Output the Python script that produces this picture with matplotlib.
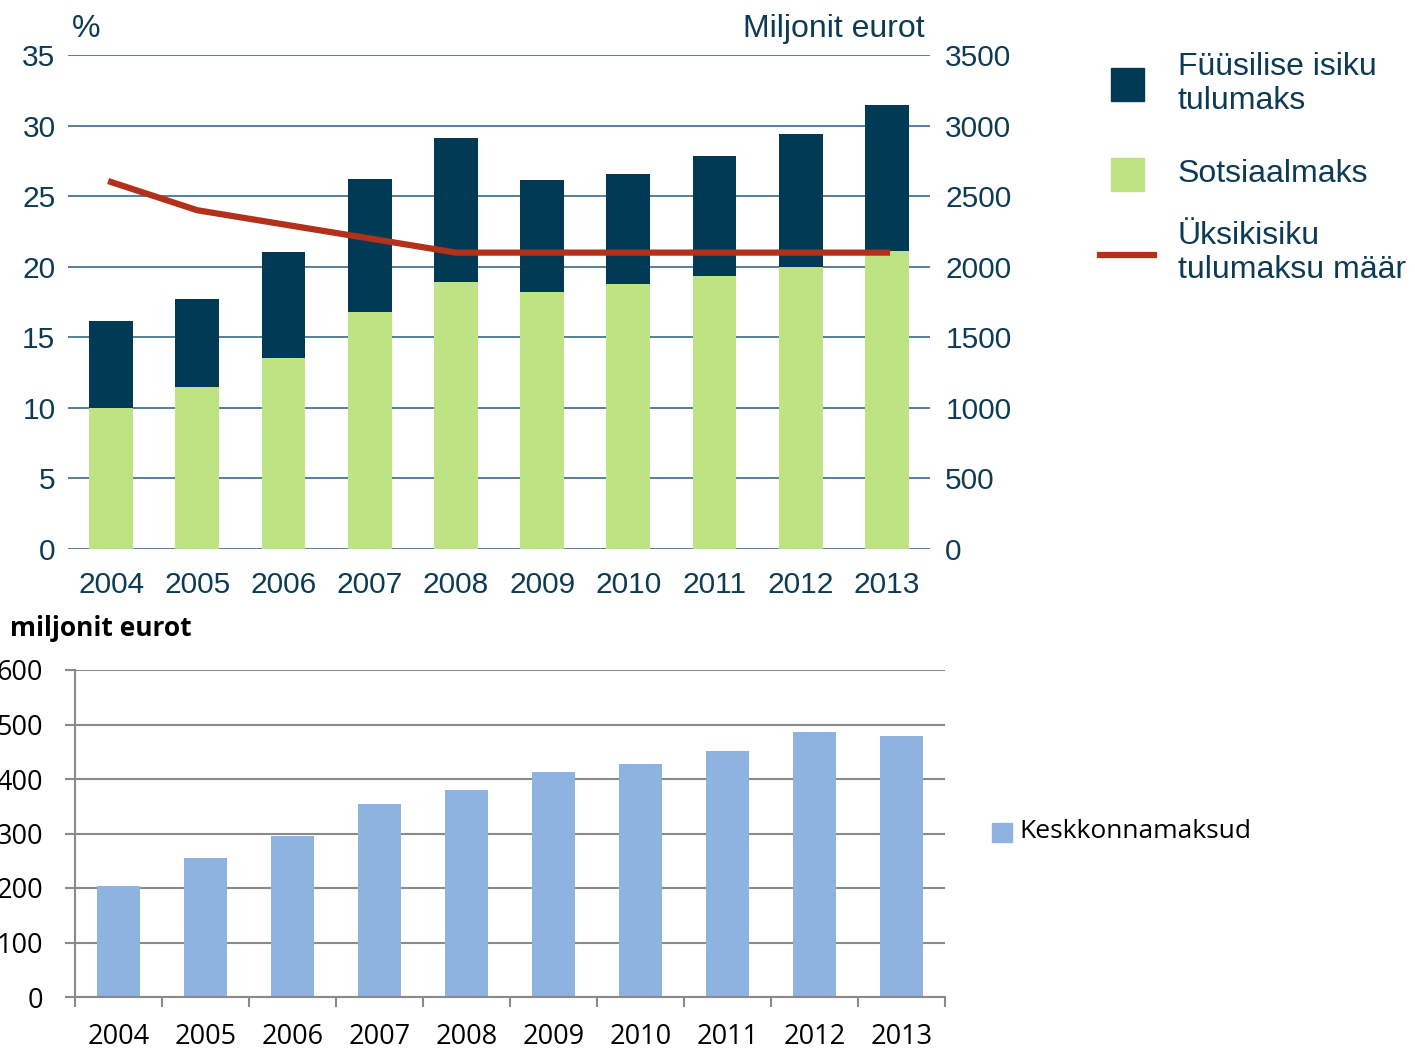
import numpy as np
import matplotlib
matplotlib.use("Agg")
import matplotlib.pyplot as plt

years = ["2004", "2005", "2006", "2007", "2008", "2009", "2010", "2011", "2012", "2013"]
sotsiaalmaks = [1000, 1148, 1353, 1679, 1892, 1821, 1878, 1934, 1998, 2111]
tulumaks = [615, 623, 751, 942, 1020, 793, 779, 850, 942, 1035]
maar = [26, 24, 23, 22, 21, 21, 21, 21, 21, 21]
keskkond = [203, 255, 295, 354, 380, 413, 428, 451, 486, 479]

navy = "#003a55"
green = "#bee383"
red = "#b3301a"
txt = "#0d3b55"
grid_top = "#3a6a86"
blue = "#8eb3e1"
grey = "#8a8a8a"

W, H = 1415, 1050
fig = plt.figure(figsize=(W / 100, H / 100), dpi=100)
x = np.arange(len(years))

# --- top chart: bars on right axis (mln eur), rate line on left axis (%)
ax = fig.add_axes([68 / W, 1 - 549 / H, (930 - 68) / W, (549 - 55) / H])
ax.bar(x, sotsiaalmaks, 0.51, color=green, zorder=2)
ax.bar(x, tulumaks, 0.51, bottom=sotsiaalmaks, color=navy, zorder=2)
ax.set_ylim(0, 3500)
ax.set_xlim(-0.5, len(years) - 0.5)
ax.set_yticks(np.arange(0, 3501, 500))
ax.grid(axis="y", color=grid_top, lw=1.2, zorder=0)
for s in ax.spines.values():
    s.set_visible(False)
ax.set_xticks(x)
ax.set_xticklabels(years)

ax2 = ax.twinx()
ax2.plot(x, maar, color=red, lw=4.5, zorder=3)
ax2.set_ylim(0, 35)
ax2.set_yticks(np.arange(0, 36, 5))
for s in ax2.spines.values():
    s.set_visible(False)
# swap sides after twinx
ax.yaxis.tick_right()
ax2.yaxis.tick_left()
ax.tick_params(axis="y", length=0, pad=11, labelsize=21.5, labelcolor=txt)
ax.tick_params(axis="x", length=0, pad=16, labelsize=21.5, labelcolor=txt)
ax2.tick_params(axis="y", length=0, pad=9, labelsize=21.5, labelcolor=txt)
for lab in ax.get_xticklabels() + ax.get_yticklabels() + ax2.get_yticklabels():
    lab.set_family("Liberation Sans")

fig.text(72 / W, 1 - 29 / H, "%", ha="left", va="center", fontsize=23, color=txt, family="Liberation Sans")
fig.text(925 / W, 1 - 29 / H, "Miljonit eurot", ha="right", va="center", fontsize=23, color=txt, family="Liberation Sans")

# legend top (drawn by hand in figure coordinates)
lk = dict(fontsize=23, color=txt, family="Liberation Sans", va="center", ha="left")
fig.patches.append(plt.Rectangle((1111 / W, 1 - 101 / H), 33 / W, 33 / H, color=navy, transform=fig.transFigure))
fig.patches.append(plt.Rectangle((1111 / W, 1 - 191 / H), 33 / W, 33 / H, color=green, transform=fig.transFigure))
fig.lines.append(plt.Line2D([1100 / W, 1154 / W], [1 - 255 / H, 1 - 255 / H], color=red, lw=4.5, transform=fig.transFigure))
fig.text(1178 / W, 1 - 84 / H, "Füüsilise isiku\ntulumaks", linespacing=1.15, **lk)
fig.text(1178 / W, 1 - 174 / H, "Sotsiaalmaks", **lk)
fig.text(1178 / W, 1 - 253 / H, "Üksikisiku\ntulumaksu määr", linespacing=1.15, **lk)

# --- bottom chart
bx = fig.add_axes([75 / W, 1 - 997 / H, (945 - 75) / W, (997 - 670) / H])
bx.bar(x, keskkond, 0.5, color=blue, zorder=2)
bx.set_ylim(0, 600)
bx.set_xlim(-0.5, len(years) - 0.5)
bx.set_yticks(np.arange(0, 601, 100))
bx.grid(axis="y", color=grey, lw=1.5, zorder=0)
for side in ["top", "right"]:
    bx.spines[side].set_visible(False)
for side in ["left", "bottom"]:
    bx.spines[side].set_color(grey)
    bx.spines[side].set_linewidth(1.5)
bx.set_xticks(x)
bx.set_xticklabels(years)
bx.set_xticks(np.arange(-0.5, len(years)), minor=True)
bx.tick_params(axis="x", which="major", length=0, pad=19, labelsize=19.5)
bx.tick_params(axis="x", which="minor", length=7, width=1.5, color=grey)
bx.tick_params(axis="y", length=7, width=1.5, color=grey, pad=16, labelsize=19.5)
for lab in bx.get_xticklabels() + bx.get_yticklabels():
    lab.set_family("Open Sans")

fig.text(10 / W, 1 - 628 / H, "miljonit eurot", ha="left", va="center", fontsize=19, fontweight="bold", family="Open Sans")
fig.patches.append(plt.Rectangle((992 / W, 1 - 842 / H), 20 / W, 19 / H, color=blue, transform=fig.transFigure))
fig.text(1019 / W, 1 - 832 / H, "Keskkonnamaksud", ha="left", va="center", fontsize=19, family="Open Sans")

fig.savefig("out.png", dpi=100)
